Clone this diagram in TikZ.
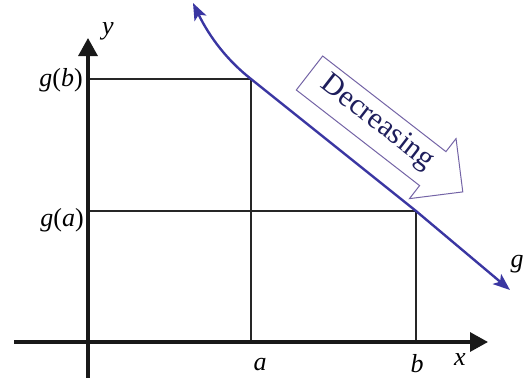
\documentclass[tikz,border=0pt]{standalone}
\usepackage{fontspec}
\setmainfont{Liberation Serif}
\usetikzlibrary{arrows.meta}
\definecolor{curveblue}{HTML}{3A36A2}
\definecolor{arrowline}{HTML}{7464A6}
\definecolor{textnavy}{HTML}{1E1E5C}
\begin{document}
\begin{tikzpicture}[x=1pt,y=-1pt,
  axis/.style={line width=3.2pt, black!90, -{Triangle[length=18pt,width=19pt]}},
  grid/.style={line width=2.7pt, black!85},
  curve/.style={line width=2.4pt, curveblue, {Stealth[length=17pt,width=13pt,inset=4pt]}-{Stealth[length=17pt,width=13pt,inset=4pt]}},
  lbl/.style={inner sep=0pt, font=\fontsize{26}{30}\selectfont},
  blockarrow/.style={line width=1pt, arrowline, fill=white}]
\useasboundingbox (0,0) rectangle (531,378);
% key points
\coordinate (O) at (88,342);
\coordinate (ytop) at (88,38);
\coordinate (ybot) at (88,378);
\coordinate (xleft) at (14,342);
\coordinate (xright) at (488,342);
\coordinate (Pb) at (251,79);
\coordinate (Pa) at (416,211);
\coordinate (Ya) at (88,211);
\coordinate (Yb) at (88,79);
\coordinate (Xa) at (251,342);
\coordinate (Xb) at (416,342);
\coordinate (ctop) at (193,3);
\coordinate (cbot) at (510,290);
% grid lines
\draw[grid] (Yb) -- (Pb) -- (Xa);
\draw[grid] (Ya) -- (Pa) -- (Xb);
% axes
\draw[axis] (ybot) -- (ytop);
\draw[axis] (xleft) -- (xright);
% curve
\draw[curve] (ctop) .. controls (210,38) and (228,61) .. (Pb) -- (Pa) -- (cbot);
% decreasing block arrow
\begin{scope}[shift={(309.5,73)}, rotate=-37.8]
  \draw[blockarrow] (0,-21.5) -- (156,-21.5) -- (156,-38) -- (194,0) -- (156,38) -- (156,21.5) -- (0,21.5) -- cycle;
  \node[inner sep=0pt, transform shape, text=textnavy, font=\fontsize{30}{34}\selectfont] (dec) at (84,-2) {Decreasing};
\end{scope}
% labels
\node[lbl, anchor=base] (ylab) at (108,34) {\textit{y}};
\node[lbl, anchor=base east] (gblab) at (83,86) {\textit{g}(\textit{b})};
\node[lbl, anchor=base east] (galab) at (84,226) {\textit{g}(\textit{a})};
\node[lbl, anchor=base] (alab) at (260,370) {\textit{a}};
\node[lbl, anchor=base] (blab) at (417,372) {\textit{b}};
\node[lbl, anchor=base] (xlab) at (460,365) {\textit{x}};
\node[lbl, anchor=base] (glab) at (517,267) {\textit{g}};
\end{tikzpicture}
\end{document}
